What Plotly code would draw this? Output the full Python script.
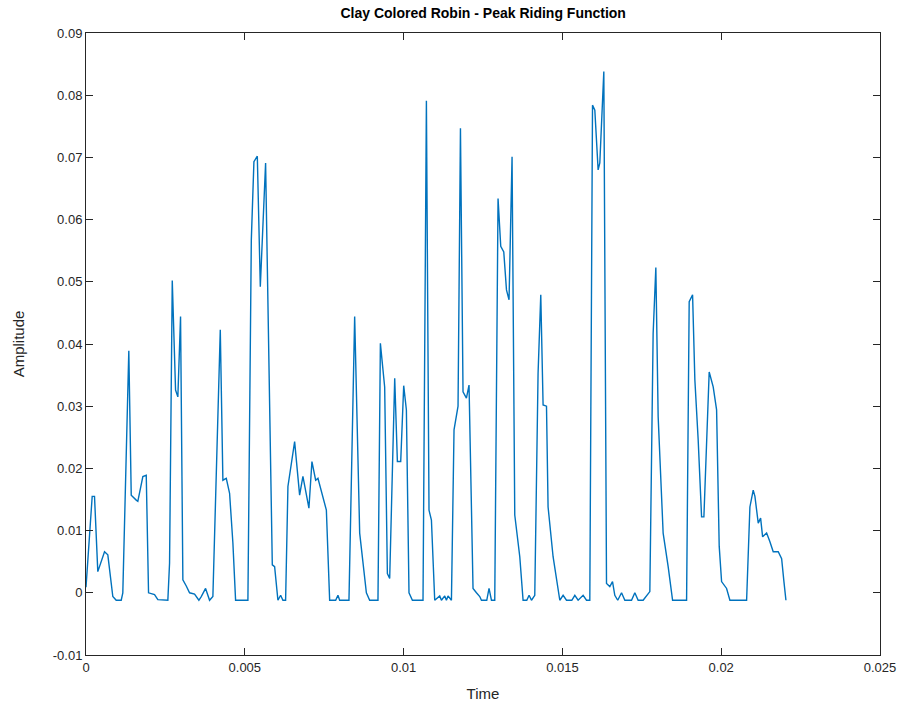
import plotly.graph_objects as go

# Peak riding function of the clay colored robin call (time in seconds)
time_s = [
    0.0, 0.000195, 0.000268, 0.000372, 0.000583, 0.000687, 0.000844, 0.000951,
    0.001109, 0.001159, 0.001348, 0.001424, 0.001582, 0.001632, 0.001790, 0.001897,
    0.001969, 0.002158, 0.002262, 0.002577, 0.002631, 0.002716, 0.002820, 0.002892,
    0.002977, 0.003050, 0.003157, 0.003261, 0.003418, 0.003554, 0.003629, 0.003765,
    0.003891, 0.003995, 0.004228, 0.004310, 0.004417, 0.004521, 0.004625, 0.004710,
    0.005098, 0.005205, 0.005287, 0.005394, 0.005488, 0.005655, 0.005866, 0.005939,
    0.006043, 0.006128, 0.006200, 0.006285, 0.006358, 0.006569, 0.006726, 0.006830,
    0.007019, 0.007114, 0.007231, 0.007303, 0.007568, 0.007672, 0.007861, 0.007933,
    0.007987, 0.008280, 0.008459, 0.008513, 0.008617, 0.008828, 0.008932, 0.009193,
    0.009269, 0.009404, 0.009489, 0.009562, 0.009720, 0.009804, 0.009909, 0.010003,
    0.010088, 0.010170, 0.010277, 0.010611, 0.010665, 0.010718, 0.010800, 0.010876,
    0.010980, 0.011137, 0.011191, 0.011295, 0.011348, 0.011399, 0.011506, 0.011588,
    0.011714, 0.011790, 0.011871, 0.011978, 0.012060, 0.012186, 0.012294, 0.012398,
    0.012451, 0.012618, 0.012690, 0.012766, 0.012870, 0.012974, 0.013059, 0.013154,
    0.013239, 0.013320, 0.013415, 0.013500, 0.013658, 0.013762, 0.013878, 0.013951,
    0.014026, 0.014130, 0.014234, 0.014319, 0.014392, 0.014499, 0.014549, 0.014707,
    0.014918, 0.015022, 0.015129, 0.015296, 0.015391, 0.015495, 0.015652, 0.015759,
    0.015863, 0.015948, 0.016021, 0.016125, 0.016178, 0.016304, 0.016389, 0.016493,
    0.016578, 0.016650, 0.016742, 0.016862, 0.016966, 0.017177, 0.017281, 0.017385,
    0.017542, 0.017649, 0.017753, 0.017857, 0.017942, 0.018015, 0.018172, 0.018330,
    0.018469, 0.018910, 0.018992, 0.019099, 0.019171, 0.019275, 0.019382, 0.019455,
    0.019622, 0.019748, 0.019855, 0.019937, 0.020012, 0.020170, 0.020274, 0.020800,
    0.020904, 0.021008, 0.021062, 0.021166, 0.021241, 0.021304, 0.021430, 0.021534,
    0.021638, 0.021796, 0.021903, 0.021975, 0.022038,
]

amplitude = [
    0.0009, 0.0155, 0.0155, 0.0034, 0.0066, 0.0061, -0.0006, -0.0012,
    -0.0012, 0.0, 0.0389, 0.0157, 0.0149, 0.0147, 0.0187, 0.0189,
    0.0, -0.0003, -0.0011, -0.0012, 0.0048, 0.0502, 0.0326, 0.0315,
    0.0444, 0.0021, 0.0011, 0.0, -0.0002, -0.0012, -0.0006, 0.0007,
    -0.0012, -0.0006, 0.0423, 0.0181, 0.0184, 0.0160, 0.0080, -0.0012,
    -0.0012, 0.0567, 0.0693, 0.0702, 0.0492, 0.0691, 0.0045, 0.0042,
    -0.0012, -0.0004, -0.0012, -0.0012, 0.0171, 0.0243, 0.0157, 0.0187,
    0.0136, 0.0211, 0.0181, 0.0184, 0.0133, -0.0012, -0.0012, -0.0004,
    -0.0012, -0.0012, 0.0444, 0.0310, 0.0096, 0.0, -0.0012, -0.0012,
    0.0401, 0.0331, 0.0031, 0.0023, 0.0345, 0.0211, 0.0211, 0.0333,
    0.0294, 0.0, -0.0012, -0.0012, 0.0326, 0.0791, 0.0133, 0.0117,
    -0.0012, -0.0005, -0.0012, -0.0005, -0.0012, -0.0005, -0.0012, 0.0262,
    0.0300, 0.0747, 0.0323, 0.0313, 0.0334, 0.0007, 0.0, -0.0006,
    -0.0012, -0.0012, 0.0007, -0.0012, -0.0012, 0.0634, 0.0557, 0.0548,
    0.0487, 0.0471, 0.0701, 0.0125, 0.0058, -0.0012, -0.0012, -0.0004,
    -0.0012, -0.0004, 0.0353, 0.0479, 0.0302, 0.0300, 0.0138, 0.0058,
    -0.0012, -0.0004, -0.0012, -0.0012, -0.0004, -0.0012, -0.0004, -0.0012,
    -0.0012, 0.0784, 0.0776, 0.0680, 0.0691, 0.0838, 0.0015, 0.0010,
    0.0018, -0.0004, -0.0012, 0.0, -0.0012, -0.0012, 0.0, -0.0012,
    -0.0012, -0.0004, 0.0002, 0.0417, 0.0523, 0.0283, 0.0096, 0.0042,
    -0.0012, -0.0012, 0.0468, 0.0479, 0.0342, 0.0246, 0.0122, 0.0122,
    0.0355, 0.0331, 0.0294, 0.0075, 0.0018, 0.0007, -0.0012, -0.0012,
    0.0138, 0.0165, 0.0155, 0.0112, 0.0120, 0.0090, 0.0096, 0.0082,
    0.0066, 0.0066, 0.0055, 0.0018, -0.0012,
]

x_tick_vals = [0, 0.005, 0.01, 0.015, 0.02, 0.025]
x_tick_text = ["0", "0.005", "0.01", "0.015", "0.02", "0.025"]
y_tick_vals = [-0.01, 0, 0.01, 0.02, 0.03, 0.04, 0.05, 0.06, 0.07, 0.08, 0.09]
y_tick_text = ["-0.01", "0", "0.01", "0.02", "0.03", "0.04", "0.05",
               "0.06", "0.07", "0.08", "0.09"]

axis_color = "#262626"
font_family = "Liberation Sans, Arial, Helvetica, sans-serif"

fig = go.Figure()
fig.add_trace(go.Scatter(
    x=time_s, y=amplitude, mode="lines",
    line=dict(color="#0072BD", width=1.4),
    showlegend=False, hoverinfo="x+y",
))

axis_common = dict(
    showgrid=False, zeroline=False, automargin=False,
    ticklabeloverflow="allow",
    showline=True, linecolor=axis_color, linewidth=1, mirror="allticks",
    ticks="inside", ticklen=7, tickwidth=1, tickcolor=axis_color,
    tickfont=dict(family=font_family, size=13, color=axis_color),
)

fig.update_layout(
    width=899, height=706,
    margin=dict(l=86, r=19, t=33, b=51, autoexpand=False),
    paper_bgcolor="white", plot_bgcolor="white",
    font=dict(family=font_family, color=axis_color),
    title=dict(
        text="<b>Clay Colored Robin - Peak Riding Function</b>",
        x=0.5375, xanchor="center", y=0.982, yanchor="middle",
        font=dict(family=font_family, size=14, color="black"),
    ),
    xaxis=dict(
        range=[0, 0.025], tickvals=x_tick_vals, ticktext=x_tick_text,
        title=dict(text="Time", font=dict(family=font_family, size=15, color=axis_color), standoff=14),
        **axis_common,
    ),
    yaxis=dict(
        range=[-0.01, 0.09], tickvals=y_tick_vals, ticktext=y_tick_text,
        title=dict(text="Amplitude", font=dict(family=font_family, size=15, color=axis_color), standoff=24),
        **axis_common,
    ),
)

fig.write_html("out.html")
